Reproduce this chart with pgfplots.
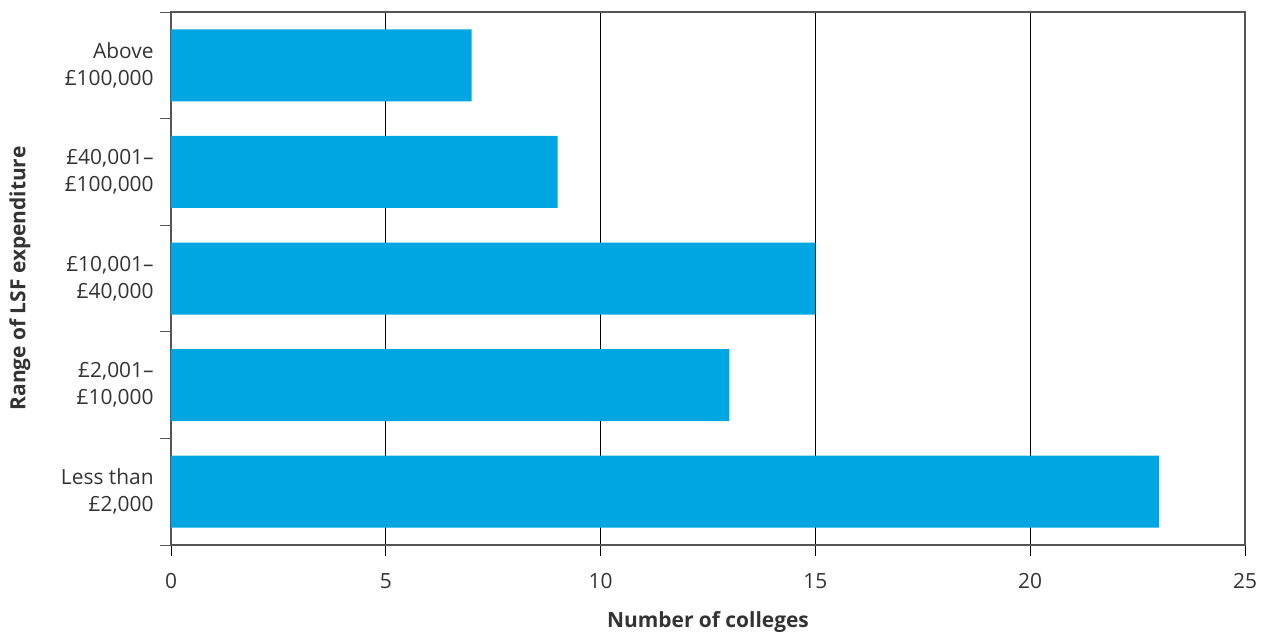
\documentclass[border=0pt]{standalone}
\usepackage{pgfplots}
\pgfplotsset{compat=1.18}
\usepackage{fontspec}
\setmainfont{Open Sans}
\definecolor{barblue}{HTML}{00A6E2}
\definecolor{axgray}{HTML}{555555}
\definecolor{txtgray}{HTML}{333333}
\begin{document}
\fontsize{10.5}{13.5}\selectfont
\begin{tikzpicture}
\path[use as bounding box] (-85.5bp,-45bp) rectangle (547.5bp,272.5bp);
\begin{axis}[
  at={(0,0)}, anchor=south west,
  scale only axis, width=537bp, height=266.5bp,
  xbar, bar width=36bp,
  xmin=0, xmax=25, ymin=0.5, ymax=5.5,
  xtick={0,5,...,25},
  ytick={1,2,3,4,5},
  yticklabels={{Less than\\\pounds2,000},{\pounds2,001--\\\pounds10,000},{\pounds10,001--\\\pounds40,000},{\pounds40,001--\\\pounds100,000},{Above\\\pounds100,000}},
  yticklabel style={align=right, font=\fontsize{10.5}{13.5}\selectfont, text=txtgray, xshift=0.5bp},
  xticklabel style={font=\fontsize{10.5}{13.5}\selectfont, text=txtgray, yshift=-5bp},
  minor ytick={0.5,1.5,...,5.5},
  xtick pos=bottom, ytick pos=left,
  tick align=outside,
  major tick length=5.5bp,
  minor tick length=5.5bp,
  every y tick/.style={draw=none},
  every minor y tick/.style={draw=axgray, thin},
  every x tick/.style={draw=black, thin},
  xmajorgrids,
  major grid style={black, line width=0.5pt},
  axis line style={axgray, line width=0.7pt},
  /pgf/number format/assume math mode=true,
  xlabel={\bfseries Number of colleges},
  ylabel={\bfseries Range of LSF expenditure},
  xlabel style={font=\fontsize{10.5}{13.5}\selectfont, text=txtgray, at={(axis description cs:0.5,0)}, anchor=center, yshift=-38.5bp},
  ylabel style={font=\fontsize{10.5}{13.5}\selectfont, text=txtgray, at={([xshift=-75.5bp]axis description cs:0,0.5)}, anchor=center},
]
\addplot[fill=barblue, draw=none] coordinates {(23,1) (13,2) (15,3) (9,4) (7,5)};
\end{axis}
\end{tikzpicture}
\end{document}
